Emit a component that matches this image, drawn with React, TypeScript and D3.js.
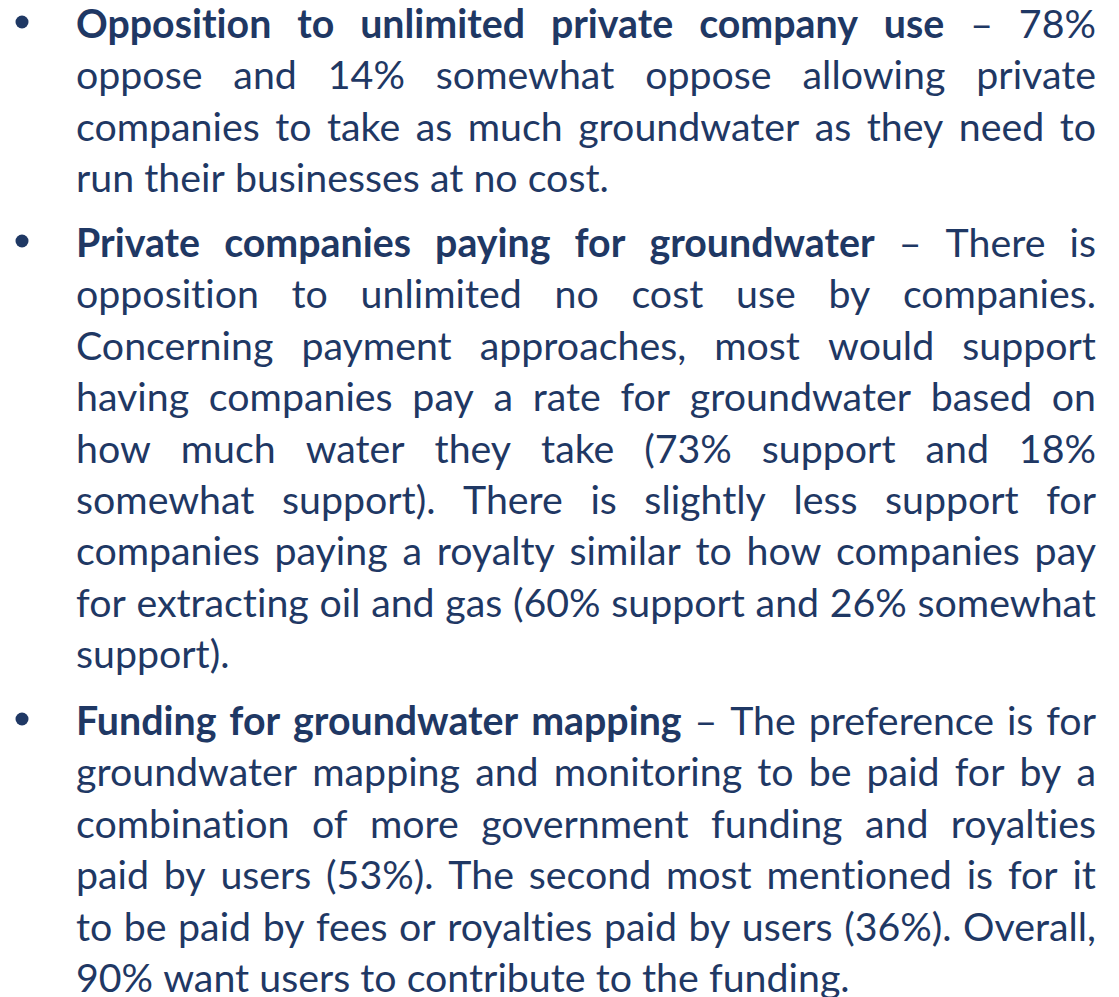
import React, { useEffect, useRef } from 'react'
import * as d3 from 'd3'

// bold lead of each bullet, then the rest of its first line
const headings = [
  'Opposition to unlimited private company use',
  'Private companies paying for groundwater',
  'Funding for groundwater mapping',
]
const headTails = ['– 78%', '– There is', '– The preference is for']

// remaining lines of each bullet, broken as in the picture
const unlimitedUseLines = [
  'oppose and 14% somewhat oppose allowing private',
  'companies to take as much groundwater as they need to',
  'run their businesses at no cost.',
]
const payingLines = [
  'opposition to unlimited no cost use by companies.',
  'Concerning payment approaches, most would support',
  'having companies pay a rate for groundwater based on',
  'how much water they take (73% support and 18%',
  'somewhat support). There is slightly less support for',
  'companies paying a royalty similar to how companies pay',
  'for extracting oil and gas (60% support and 26% somewhat',
  'support).',
]
const fundingLines = [
  'groundwater mapping and monitoring to be paid for by a',
  'combination of more government funding and royalties',
  'paid by users (53%). The second most mentioned is for it',
  'to be paid by fees or royalties paid by users (36%). Overall,',
  '90% want users to contribute to the funding.',
]
const bodyLines = [unlimitedUseLines, payingLines, fundingLines]

const W = 1119, H = 997
const textLeft = 76, textRight = 1096
const bulletX = 22
const firstBaselines = [38, 257, 735]
const pitch = 51.4
const color = '#1F3864'
const font = 'Lato, "Open Sans", sans-serif'

type Word = { t: string; bold: boolean }

const App = () => {
  const ref = useRef<SVGSVGElement>(null)

  useEffect(() => {
    const svg = d3.select(ref.current)
    svg.selectAll('*').remove()

    // build paragraphs as lines of words
    const paras: Word[][][] = headings.map((h, i) => {
      const first: Word[] = h.split(' ').map(t => ({ t, bold: true }))
        .concat(headTails[i].split(' ').map(t => ({ t, bold: false })))
      const rest = bodyLines[i].map(l => l.split(' ').map(t => ({ t, bold: false })))
      return [first, ...rest]
    })

    // measure words at a base size
    const base = 40
    const probe = svg.append('text')
      .attr('font-family', font)
      .attr('font-size', base)
      .style('font-variant-ligatures', 'none')
    const measure = (t: string, bold: boolean) => {
      probe.attr('font-weight', bold ? 'bold' : 'normal').text(t)
      return (probe.node() as SVGTextElement).getComputedTextLength()
    }
    const spaceW = measure('x x', false) - measure('xx', false)
    const widths = paras.map(p => p.map(l => l.map(w => measure(w.t, w.bold))))
    probe.remove()

    const avail = textRight - textLeft
    let maxNat = 0
    widths.forEach(p => p.forEach(l => {
      const nat = d3.sum(l) + (l.length - 1) * spaceW
      if (nat > maxNat) maxNat = nat
    }))
    const k = Math.min(1.12, avail / maxNat * 0.995)
    const size = base * k

    const g = svg.append('g')
      .attr('fill', color)
      .attr('font-family', font)
      .attr('font-size', size)
      .style('font-variant-ligatures', 'none')

    paras.forEach((p, pi) => {
      g.append('circle')
        .attr('cx', bulletX)
        .attr('cy', firstBaselines[pi] - 16)
        .attr('r', 6.5)

      p.forEach((line, li) => {
        const y = firstBaselines[pi] + li * pitch
        const ws = widths[pi][li].map(w => w * k)
        const last = li === p.length - 1
        const gap = last || line.length < 2
          ? spaceW * k
          : (avail - d3.sum(ws)) / (line.length - 1)
        let x = textLeft
        line.forEach((w, wi) => {
          g.append('text')
            .attr('x', x)
            .attr('y', y)
            .attr('font-weight', w.bold ? 'bold' : 'normal')
            .text(w.t)
          x += ws[wi] + gap
        })
      })
    })
  }, [])

  return (
    <svg ref={ref} width={W} height={H}
      style={{ position: 'absolute', left: 0, top: 0, background: '#fff' }} />
  )
}

export default App
